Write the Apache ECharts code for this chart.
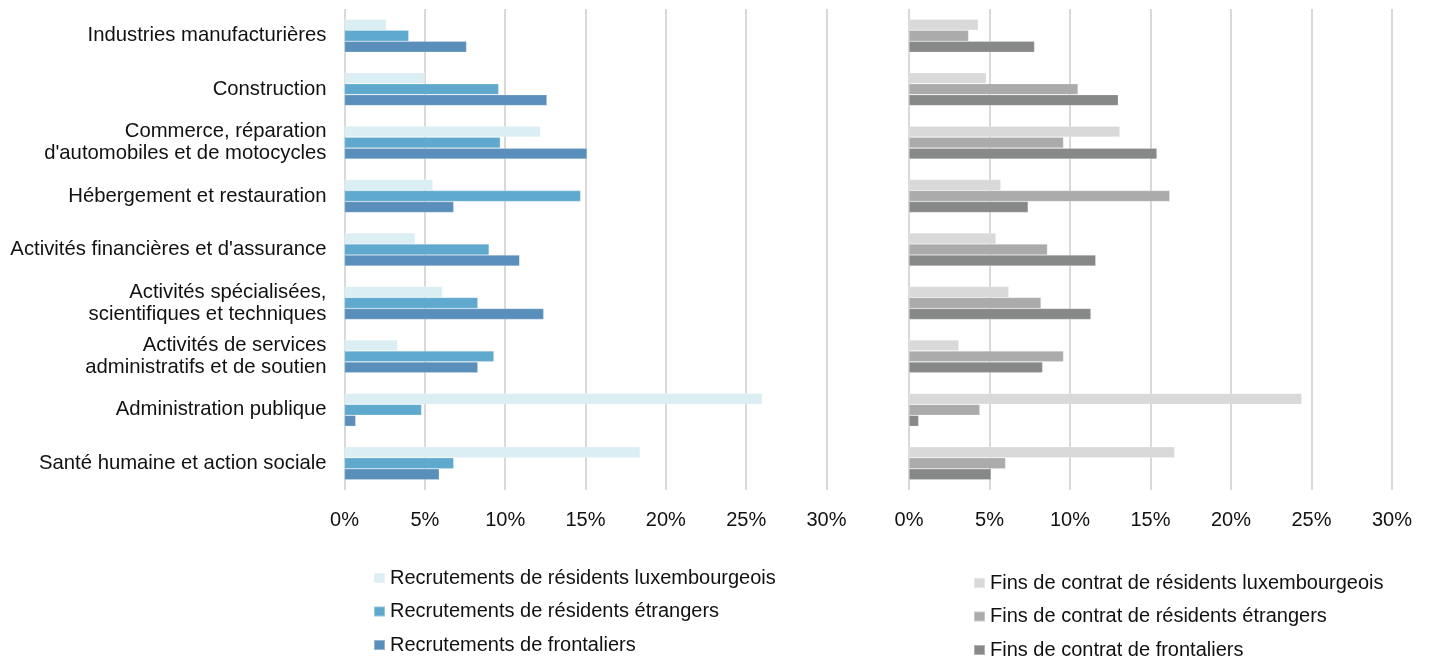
<!DOCTYPE html>
<html>
<head>
<meta charset="utf-8">
<script src="https://cdn.jsdelivr.net/npm/echarts@6/dist/echarts.min.js"></script>
<style>
  html, body { margin: 0; padding: 0; background: #fff; }
  #chart { width: 1430px; height: 662px; }
</style>
</head>
<body>
<div id="chart"></div>
<script>
// Secteurs d'activité (de haut en bas)
const categories = [
  "Industries manufacturières",
  "Construction",
  "Commerce, réparation\nd'automobiles et de motocycles",
  "Hébergement et restauration",
  "Activités financières et d'assurance",
  "Activités spécialisées,\nscientifiques et techniques",
  "Activités de services\nadministratifs et de soutien",
  "Administration publique",
  "Santé humaine et action sociale"
];

// Recrutements (en % du total de chaque groupe)
const recrutLux      = [2.6, 5.0, 12.2, 5.5, 4.4, 6.1, 3.3, 26.0, 18.4];
const recrutEtr      = [4.0, 9.6, 9.7, 14.7, 9.0, 8.3, 9.3, 4.8, 6.8];
const recrutFront    = [7.6, 12.6, 15.1, 6.8, 10.9, 12.4, 8.3, 0.7, 5.9];

// Fins de contrat (en % du total de chaque groupe)
const finsLux        = [4.3, 4.8, 13.1, 5.7, 5.4, 6.2, 3.1, 24.4, 16.5];
const finsEtr        = [3.7, 10.5, 9.6, 16.2, 8.6, 8.2, 9.6, 4.4, 6.0];
const finsFront      = [7.8, 13.0, 15.4, 7.4, 11.6, 11.3, 8.3, 0.6, 5.1];

const tickValues = [0, 5, 10, 15, 20, 25, 30];

const recrutNames = [
  "Recrutements de résidents luxembourgeois",
  "Recrutements de résidents étrangers",
  "Recrutements de frontaliers"
];
const finsNames = [
  "Fins de contrat de résidents luxembourgeois",
  "Fins de contrat de résidents étrangers",
  "Fins de contrat de frontaliers"
];

const blueColors = ["#daeef3", "#5fa9cf", "#5b8fbb"];
const greyColors = ["#d9d9d9", "#aaabaa", "#878888"];

const FONT = "Liberation Sans, Arial, sans-serif";
const textColor = "#111111";

function valueAxis(gridIndex) {
  return {
    type: "value",
    gridIndex: gridIndex,
    min: tickValues[0],
    max: tickValues[tickValues.length - 1],
    interval: tickValues[1] - tickValues[0],
    axisLine: { show: false },
    axisTick: { show: false },
    splitLine: { show: true, lineStyle: { color: "#d9d9d9", width: 2 } },
    axisLabel: {
      formatter: v => v + "%",
      color: textColor,
      fontFamily: FONT,
      fontSize: 20,
      margin: 20
    }
  };
}

function catAxis(gridIndex, showLabels) {
  return {
    type: "category",
    gridIndex: gridIndex,
    data: categories,
    inverse: true,
    axisLine: { show: false },
    axisTick: { show: false },
    axisLabel: {
      show: showLabels,
      color: textColor,
      fontFamily: FONT,
      fontSize: 20.3,
      lineHeight: 22,
      margin: 18,
      padding: [6, 0, 0, 0],
      align: "right"
    }
  };
}

function barSeries(name, data, color, axisIdx) {
  return {
    name: name,
    type: "bar",
    xAxisIndex: axisIdx,
    yAxisIndex: axisIdx,
    data: data,
    barWidth: 11,
    barGap: "0%",
    itemStyle: { color: color, borderColor: "rgba(255,255,255,0.35)", borderWidth: 0.6 },
    emphasis: { disabled: true }
  };
}

const legendCommon = {
  orient: "vertical",
  icon: "rect",
  itemWidth: 11,
  itemHeight: 10,
  itemGap: 13.5,
  height: 130,
  padding: 0,
  textStyle: { color: textColor, fontFamily: FONT, fontSize: 20, lineHeight: 20 },
  selectedMode: false
};

const chart = echarts.init(document.getElementById("chart"), null, { renderer: "canvas" });
chart.setOption({
  animation: false,
  backgroundColor: "#ffffff",
  grid: [
    { left: 344.5, width: 482, top: 9, height: 481 },
    { left: 909, width: 483, top: 9, height: 481 }
  ],
  xAxis: [valueAxis(0), valueAxis(1)],
  yAxis: [catAxis(0, true), catAxis(1, false)],
  legend: [
    Object.assign({}, legendCommon, { left: 373, top: 568, data: recrutNames }),
    Object.assign({}, legendCommon, { left: 973, top: 573, data: finsNames })
  ],
  series: [
    barSeries(recrutNames[0], recrutLux, blueColors[0], 0),
    barSeries(recrutNames[1], recrutEtr, blueColors[1], 0),
    barSeries(recrutNames[2], recrutFront, blueColors[2], 0),
    barSeries(finsNames[0], finsLux, greyColors[0], 1),
    barSeries(finsNames[1], finsEtr, greyColors[1], 1),
    barSeries(finsNames[2], finsFront, greyColors[2], 1)
  ]
});
</script>
</body>
</html>
